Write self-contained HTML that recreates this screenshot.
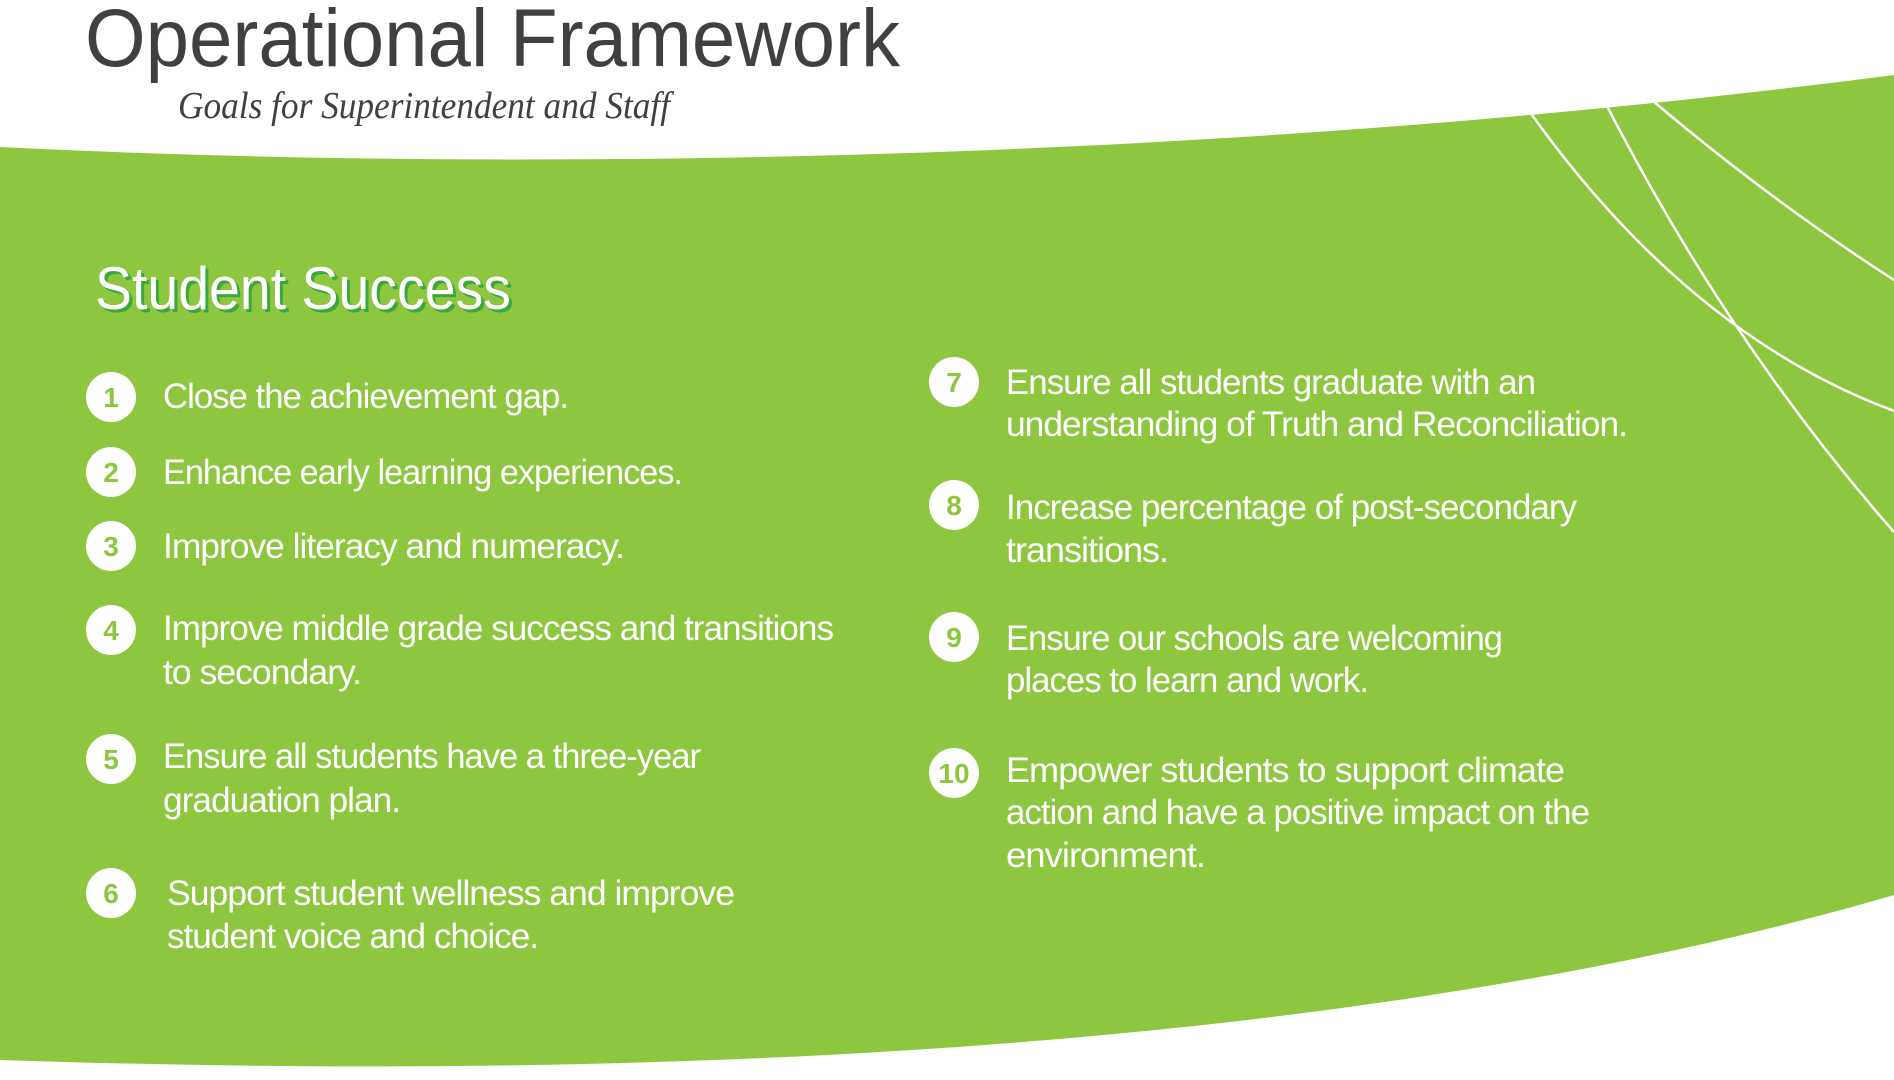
<!DOCTYPE html>
<html><head><meta charset="utf-8"><style>
html,body{margin:0;padding:0;background:#fff;width:1894px;height:1080px;overflow:hidden}
svg{display:block}
.t{font-family:"Liberation Sans",sans-serif;font-size:35px;fill:#fff;letter-spacing:-1px}
.n{font-family:"Liberation Sans",sans-serif;font-size:28px;font-weight:bold;fill:#8dc63f;text-anchor:middle}
</style></head><body>
<svg width="1894" height="1080" viewBox="0 0 1894 1080" xmlns="http://www.w3.org/2000/svg">
<path d="M0,147 C500,172 1200,165 1894,75 L1894,895 C1500,1010 900,1090 0,1060 Z" fill="#8dc63f"/>
<g stroke="#fff" stroke-width="2.5" fill="none">
<path d="M1532,115 Q1690,335 1894,411"/>
<path d="M1607,106 Q1730,345 1894,532"/>
<path d="M1653,101 Q1770,200 1894,280"/>
</g>
<text x="85" y="66" font-family="Liberation Sans,sans-serif" font-size="82" fill="#404040" textLength="815" lengthAdjust="spacingAndGlyphs">Operational Framework</text>
<text x="178" y="118" font-family="Liberation Serif,serif" font-style="italic" font-size="38" fill="#404040" textLength="492" lengthAdjust="spacingAndGlyphs">Goals for Superintendent and Staff</text>
<text x="98" y="312" font-family="Liberation Sans,sans-serif" font-size="60" fill="#3aa83a" textLength="416" lengthAdjust="spacingAndGlyphs">Student Success</text>
<text x="95" y="309" font-family="Liberation Sans,sans-serif" font-size="60" fill="#fff" textLength="416" lengthAdjust="spacingAndGlyphs">Student Success</text>
<g fill="#fff">
<circle cx="111" cy="397" r="25"/><circle cx="111" cy="472" r="25"/><circle cx="111" cy="546" r="25"/>
<circle cx="111" cy="630" r="25"/><circle cx="111" cy="759" r="25"/><circle cx="111" cy="893" r="25"/>
<circle cx="954" cy="382" r="25"/><circle cx="954" cy="505" r="25"/><circle cx="954" cy="637" r="25"/><circle cx="954" cy="773" r="25"/>
</g>
<text class="n" x="111" y="407">1</text><text class="n" x="111" y="482">2</text><text class="n" x="111" y="556">3</text>
<text class="n" x="111" y="640">4</text><text class="n" x="111" y="769">5</text><text class="n" x="111" y="903">6</text>
<text class="n" x="954" y="392">7</text><text class="n" x="954" y="515">8</text><text class="n" x="954" y="647">9</text><text class="n" x="954" y="783">10</text>
<g class="t">
<text x="163" y="408" textLength="405" lengthAdjust="spacingAndGlyphs">Close the achievement gap.</text>
<text x="163" y="484" textLength="519" lengthAdjust="spacingAndGlyphs">Enhance early learning experiences.</text>
<text x="163" y="558" textLength="461" lengthAdjust="spacingAndGlyphs">Improve literacy and numeracy.</text>
<text x="163" y="640" textLength="670" lengthAdjust="spacingAndGlyphs">Improve middle grade success and  transitions</text>
<text x="163" y="684" textLength="198" lengthAdjust="spacingAndGlyphs">to secondary.</text>
<text x="163" y="768" textLength="537" lengthAdjust="spacingAndGlyphs">Ensure all students have a three-year</text>
<text x="163" y="812" textLength="237" lengthAdjust="spacingAndGlyphs">graduation plan.</text>
<text x="167" y="905" textLength="567" lengthAdjust="spacingAndGlyphs">Support student wellness and improve</text>
<text x="167" y="948" textLength="371" lengthAdjust="spacingAndGlyphs">student voice and choice.</text>
<text x="1006" y="394" textLength="529" lengthAdjust="spacingAndGlyphs">Ensure all students graduate with an</text>
<text x="1006" y="436" textLength="621" lengthAdjust="spacingAndGlyphs">understanding of Truth and Reconciliation.</text>
<text x="1006" y="519" textLength="570" lengthAdjust="spacingAndGlyphs">Increase percentage of post-secondary</text>
<text x="1006" y="562" textLength="162" lengthAdjust="spacingAndGlyphs">transitions.</text>
<text x="1006" y="650" textLength="496" lengthAdjust="spacingAndGlyphs">Ensure our schools are welcoming</text>
<text x="1006" y="692" textLength="362" lengthAdjust="spacingAndGlyphs">places to learn and work.</text>
<text x="1006" y="782" textLength="558" lengthAdjust="spacingAndGlyphs">Empower students to support climate</text>
<text x="1006" y="824" textLength="583" lengthAdjust="spacingAndGlyphs">action and have a positive impact on the</text>
<text x="1006" y="867" textLength="199" lengthAdjust="spacingAndGlyphs">environment.</text>
</g>
</svg>
</body></html>
